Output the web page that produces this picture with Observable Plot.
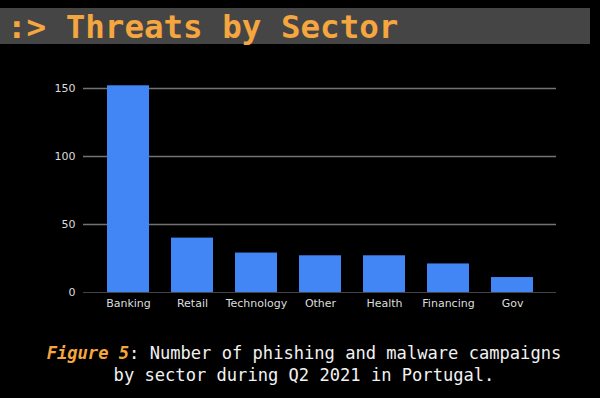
<!DOCTYPE html>
<html>
<head>
<meta charset="utf-8">
<script src="https://cdn.jsdelivr.net/npm/d3@7"></script>
<script src="https://cdn.jsdelivr.net/npm/@observablehq/plot@0.6"></script>
<style>
  html, body { margin: 0; padding: 0; background: #000; width: 600px; height: 398px; overflow: hidden; }
  #band { position: absolute; left: 0; top: 8px; width: 590px; height: 36px; background: #454545; }
  #title { position: absolute; left: 7px; top: 6px; height: 44px;
    color: #f5a63f; font-family: "DejaVu Sans Mono", monospace; font-weight: bold; font-size: 32.5px;
    line-height: 42px; white-space: pre; }
  #chart { position: absolute; left: 0; top: 60px; }
  #caption { position: absolute; left: 0; top: 343px; width: 608px; text-align: center;
    color: #f2f2f2; font-family: "DejaVu Sans Mono", monospace; font-size: 17.1px; line-height: 21.5px; }
  #caption .fig { color: #f5a63f; font-style: italic; font-weight: bold; }
</style>
</head>
<body>
<div id="band"></div>
<div id="title">:&gt; Threats by Sector</div>
<div id="chart"></div>
<div id="caption"><span class="fig">Figure 5</span>: Number of phishing and malware campaigns<br>by sector during Q2 2021 in Portugal.</div>
<script>
const sectors = ["Banking", "Retail", "Technology", "Other", "Health", "Financing", "Gov"];
const counts = [152, 40, 29, 27, 27, 21, 11];
const yTicks = [0, 50, 100, 150];

const data = sectors.map((s, i) => ({sector: s, count: counts[i]}));

const chart = Plot.plot({
  width: 600,
  height: 260,
  marginLeft: 83,
  marginRight: 44,
  marginTop: 28,
  marginBottom: 28,
  style: {background: "transparent", color: "#dddddd", fontFamily: "DejaVu Sans, Verdana, sans-serif", fontSize: "11px"},
  x: {domain: sectors, paddingInner: 0.35, paddingOuter: 0.33, label: null, tickSize: 0, tickPadding: 7},
  y: {domain: [0, 150], ticks: yTicks, label: null, tickSize: 0, tickPadding: 8},
  marks: [
    Plot.ruleY(yTicks.filter(d => d > 0), {stroke: "#737373", strokeWidth: 1.5}),
    Plot.ruleY([0], {stroke: "#444444", strokeWidth: 1}),
    Plot.barY(data, {x: "sector", y: "count", fill: "#4285f4"})
  ]
});
document.getElementById("chart").appendChild(chart);
</script>
</body>
</html>
